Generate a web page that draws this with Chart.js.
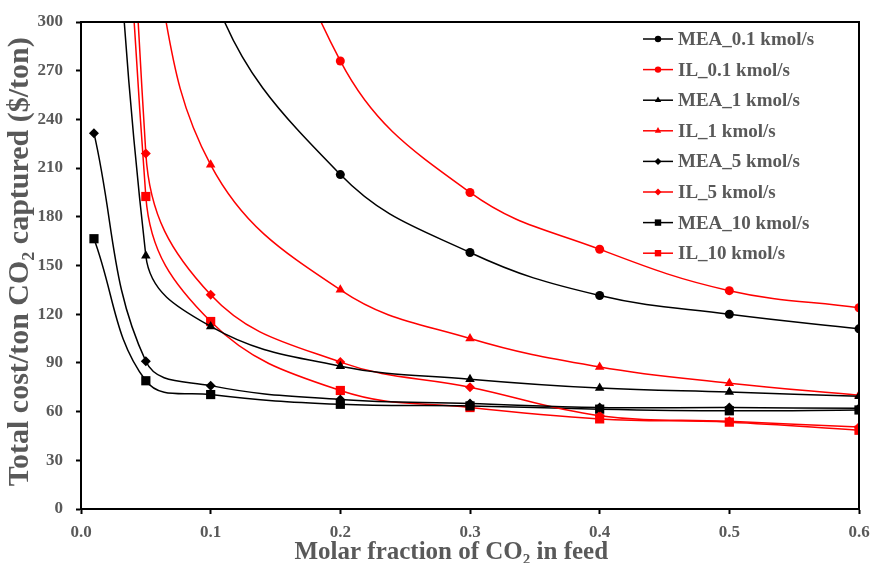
<!DOCTYPE html>
<html lang="en">
<head>
  <meta charset="UTF-8">
  <title>Total cost per ton CO2 captured</title>
  <script src="https://cdn.jsdelivr.net/npm/chart.js@4"></script>
  <style>
    html, body { margin: 0; padding: 0; background: #fff; }
    #chart { display: block; }
  </style>
</head>
<body>
  <canvas id="chart" width="871" height="563"></canvas>

  <script>
    // molar fraction of CO2 in feed
    const xValues = [0.01, 0.05, 0.1, 0.2, 0.3, 0.4, 0.5, 0.6];

    // cost per ton, null = not part of the series (values above 300 run off the chart)
    const mea01 = [null, 560, 322, 206, 158, 131.5, 120, 111];
    const il01 = [null, null, 500, 276, 195, 160, 134.5, 124];
    const mea1 = [750, 156, 112.5, 88, 80, 74.5, 72, 69.5];
    const il1 = [null, 360, 212, 135, 105, 87.5, 77.5, 70];
    const mea5 = [231.5, 91, 76, 67.5, 65, 62.5, 62.5, 62];
    const il5 = [1300, 219, 132, 90.5, 75, 57.5, 54, 50.5];
    const mea10 = [166.5, 79, 70.5, 64.5, 63.5, 61.5, 60.5, 61];
    const il10 = [1100, 192.5, 115.5, 73, 62.5, 55.5, 53.5, 48.5];

    const xTicks = [0, 0.1, 0.2, 0.3, 0.4, 0.5, 0.6];
    const yTicks = [0, 30, 60, 90, 120, 150, 180, 210, 240, 270, 300];

    const serif = '"Liberation Serif", "Times New Roman", serif';
    const gray = '#595959';

    function pts(arr) {
      return xValues.map((x, i) => ({ x: x, y: arr[i] })).filter(p => p.y !== null);
    }

    function series(label, arr, color, style, radius) {
      return {
        label: label,
        data: pts(arr),
        borderColor: color,
        backgroundColor: color,
        borderWidth: 1.5,
        pointStyle: style,
        pointRadius: radius,
        pointHoverRadius: radius,
        pointBorderWidth: 0,
        tension: 0.4,
        fill: false
      };
    }

    // small marker for the legend entries
    function marker(ctx, style, x, y, r) {
      ctx.beginPath();
      if (style === 'circle') {
        ctx.arc(x, y, r, 0, Math.PI * 2);
      } else if (style === 'triangle') {
        ctx.moveTo(x, y - r * 1.15);
        ctx.lineTo(x + r, y + r * 0.6);
        ctx.lineTo(x - r, y + r * 0.6);
      } else if (style === 'rectRot') {
        ctx.moveTo(x, y - r * 1.1);
        ctx.lineTo(x + r * 1.1, y);
        ctx.lineTo(x, y + r * 1.1);
        ctx.lineTo(x - r * 1.1, y);
      } else {
        ctx.rect(x - r, y - r, r * 2, r * 2);
      }
      ctx.closePath();
      ctx.fill();
    }

    const legendPlugin = {
      id: 'boxLegend',
      afterDraw(chart) {
        const ctx = chart.ctx;
        const area = chart.chartArea;
        ctx.save();
        // plot frame
        ctx.strokeStyle = '#000';
        ctx.lineWidth = 2;
        ctx.strokeRect(area.left, area.top, area.right - area.left, area.bottom - area.top);

        const x0 = area.right - 216;
        chart.data.datasets.forEach((ds, i) => {
          const y = area.top + 17 + i * 30.6;
          ctx.strokeStyle = ds.borderColor;
          ctx.fillStyle = ds.borderColor;
          ctx.lineWidth = 1.5;
          ctx.beginPath();
          ctx.moveTo(x0, y);
          ctx.lineTo(x0 + 30, y);
          ctx.stroke();
          marker(ctx, ds.pointStyle, x0 + 15, y, 3.2);
          ctx.fillStyle = gray;
          ctx.font = 'bold 19px ' + serif;
          ctx.textBaseline = 'middle';
          ctx.textAlign = 'left';
          ctx.fillText(ds.label, x0 + 35, y + 1);
        });
        ctx.restore();
      }
    };

    new Chart(document.getElementById('chart'), {
      type: 'line',
      data: {
        datasets: [
          series('MEA_0.1 kmol/s', mea01, '#000000', 'circle', 4.5),
          series('IL_0.1 kmol/s', il01, '#FF0000', 'circle', 4.5),
          series('MEA_1 kmol/s', mea1, '#000000', 'triangle', 5.5),
          series('IL_1 kmol/s', il1, '#FF0000', 'triangle', 5.5),
          series('MEA_5 kmol/s', mea5, '#000000', 'rectRot', 5),
          series('IL_5 kmol/s', il5, '#FF0000', 'rectRot', 5),
          series('MEA_10 kmol/s', mea10, '#000000', 'rect', 6.5),
          series('IL_10 kmol/s', il10, '#FF0000', 'rect', 6.5)
        ]
      },
      options: {
        responsive: false,
        animation: false,
        devicePixelRatio: 1,
        layout: { padding: { top: 22, right: 12, left: 0, bottom: 0 } },
        elements: { line: { capBezierPoints: false } },
        plugins: {
          legend: { display: false },
          tooltip: { enabled: false }
        },
        scales: {
          x: {
            type: 'linear',
            min: 0,
            max: 0.6,
            afterFit: s => { s.height = 54; s.paddingLeft = 0; s.paddingRight = 0; },
            afterBuildTicks: s => { s.ticks = xTicks.map(v => ({ value: v })); },
            ticks: {
              callback: v => v.toFixed(1),
              color: gray,
              font: { family: serif, size: 17, weight: 'bold' },
              padding: 8,
              maxRotation: 0
            },
            grid: { drawOnChartArea: false, drawTicks: true, tickLength: 5, tickColor: '#000', tickWidth: 2 },
            border: { color: '#000', width: 2 },
            title: {
              display: true,
              text: 'Molar fraction of CO₂ in feed      ',
              color: gray,
              font: { family: serif, size: 25, weight: 'bold', lineHeight: 1 },
              padding: { top: 0, bottom: -2 }
            }
          },
          y: {
            min: 0,
            max: 300,
            afterFit: s => { s.width = 81; s.paddingTop = 0; s.paddingBottom = 0; },
            afterBuildTicks: s => { s.ticks = yTicks.map(v => ({ value: v })); },
            ticks: {
              color: gray,
              font: { family: serif, size: 17, weight: 'bold' },
              padding: 13
            },
            grid: { drawOnChartArea: false, drawTicks: true, tickLength: 5, tickColor: '#000', tickWidth: 2 },
            border: { color: '#000', width: 2 },
            title: {
              display: true,
              text: ' Total cost/ton CO₂ captured ($/ton)',
              color: gray,
              font: { family: serif, size: 30, weight: 'bold', lineHeight: 1 },
              padding: { top: 5, bottom: 0 }
            }
          }
        }
      },
      plugins: [legendPlugin]
    });
  </script>
</body>
</html>
